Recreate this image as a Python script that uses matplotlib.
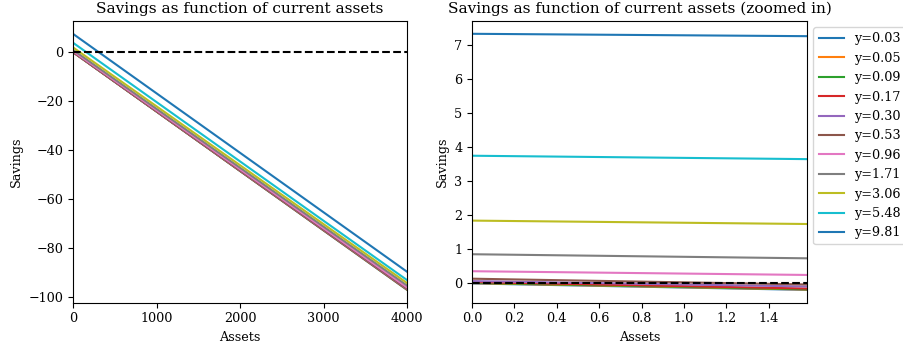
import matplotlib
matplotlib.use('Agg')
import matplotlib.pyplot as plt
from matplotlib.ticker import MultipleLocator

# income states shown in the legend
incomes = [0.03, 0.05, 0.09, 0.17, 0.30, 0.53, 0.96, 1.71, 3.06, 5.48, 9.81]

# asset grid points
assets = [0, 1.58, 4000]

# savings at each asset point, one list per income state
savings_at_0 = [-0.02, -0.01, 0.0, 0.02, 0.05, 0.12, 0.34, 0.84, 1.83, 3.74, 7.33]
savings_at_158 = [-0.21, -0.20, -0.19, -0.17, -0.11, -0.05, 0.23, 0.72, 1.73, 3.64, 7.26]
savings_at_4000 = [-97.2, -97.1, -97.0, -96.9, -96.8, -96.6, -96.2, -95.4, -94.4, -93.2, -89.8]

plt.rcParams['font.family'] = 'DejaVu Serif'
plt.rcParams['font.size'] = 9.2
plt.rcParams['axes.titlesize'] = 11.1

fig = plt.figure(figsize=(9.04, 3.51), dpi=100)
ax1 = fig.add_axes([0.0808, 0.1376, 0.3695, 0.8026])
ax2 = fig.add_axes([0.5221, 0.1376, 0.3706, 0.8026])

for i, y in enumerate(incomes):
    s = [savings_at_0[i], savings_at_158[i], savings_at_4000[i]]
    ax1.plot(assets, s, label='y=%.2f' % y)
    ax2.plot(assets[:2], s[:2], label='y=%.2f' % y)

ax1.axhline(0, color='k', linestyle='--')
ax1.set_xlim(0, 4000)
ax1.xaxis.set_major_locator(MultipleLocator(1000))
ax1.set_xlabel('Assets')
ax1.set_ylabel('Savings')
ax1.set_title('Savings as function of current assets')

ax2.axhline(0, color='k', linestyle='--')
ax2.set_xlim(0, 1.58)
ax2.set_xlabel('Assets')
ax2.set_ylabel('Savings')
ax2.set_title('Savings as function of current assets (zoomed in)')
ax2.legend(loc='upper left', bbox_to_anchor=(1, 1))

plt.savefig('out.png')
plt.close()
